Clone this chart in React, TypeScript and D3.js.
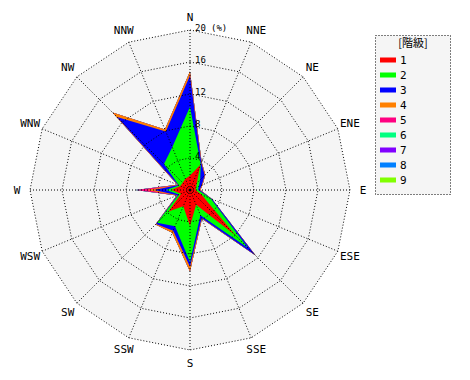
import React from "react";
import * as d3 from "d3";

const directions = ["N","NNE","NE","ENE","E","ESE","SE","SSE","S","SSW","SW","WSW","W","WNW","NW","NNW"];
const classLabels = ["1","2","3","4","5","6","7","8","9"];
const classColors = ["#ff0000","#00ff00","#0000ff","#ff8000","#ff0080","#00ff80","#8000ff","#0080ff","#80ff00"];
const radialTicks = [4, 8, 12, 16, 20];

// per-class frequencies (%) by direction, N..NNW clockwise
const class1 = [1.8, 3.4, 1.2, 0.8, 0.7, 1.6, 8.0, 2.0, 4.5, 2.2, 3.8, 1.2, 2.3, 1.3, 1.3, 1.5];
const class2 = [8.6, 0.1, 0.6, 0.4, 0.3, 1.2, 2.2, 1.4, 4.5, 2.7, 2.0, 0.3, 0.7, 0.2, 3.3, 4.3];
const class3 = [3.9, 0.2, 0.8, 0.4, 0.2, 0.2, 1.3, 0.4, 0.6, 0.6, 0.2, 0.2, 1.5, 0.1, 8.3, 2.1];
const class4 = [0.5, 0.1, 0.1, 0.1, 0.1, 0.0, 0.1, 0.1, 0.6, 0.3, 0.1, 0.1, 0.9, 0.1, 0.8, 0.3];
const class5 = [0, 0, 0, 0, 0, 0, 0, 0, 0, 0, 0, 0, 1.4, 0, 0, 0];
const class6 = [0, 0, 0, 0, 0, 0, 0, 0, 0, 0, 0, 0, 0.05, 0, 0, 0];
const class7 = [0, 0, 0, 0, 0, 0, 0, 0, 0, 0, 0, 0, 0, 0, 0, 0];
const class8 = [0, 0, 0, 0, 0, 0, 0, 0, 0, 0, 0, 0, 0, 0, 0, 0];
const class9 = [0, 0, 0, 0, 0, 0, 0, 0, 0, 0, 0, 0, 0, 0, 0, 0];
const classes = [class1, class2, class3, class4, class5, class6, class7, class8, class9];

export default function App() {
  const cx = 190, cy = 190, R = 160;
  const r = d3.scaleLinear().domain([0, 20]).range([0, R]);
  const step = (2 * Math.PI) / directions.length;
  const ang = (i: number) => i * step;

  const cum: number[][] = [];
  classes.forEach((arr, k) => {
    cum.push(arr.map((v, i) => (k === 0 ? 0 : cum[k - 1][i]) + v));
  });

  const radial = d3.lineRadial<number>()
    .angle((_, i) => ang(i))
    .radius((d) => r(d))
    .curve(d3.curveLinearClosed);

  const ringPath = (v: number) => radial(directions.map(() => v)) as string;
  const px = (i: number, rad: number) => [Math.sin(ang(i)) * rad, -Math.cos(ang(i)) * rad];
  const font = "'DejaVu Sans Mono', monospace";

  return (
    <svg width={470} height={380} style={{ position: "absolute", left: 0, top: 0, background: "#fff" }}>
      <g transform={`translate(${cx},${cy})`}>
        <path d={ringPath(20)} fill="#f5f5f5" />
        {cum.map((c, k) => ({ c, k })).reverse().map(({ c, k }) => (
          <path key={k} d={radial(c) as string} fill={classColors[k]} stroke="none" />
        ))}
        {radialTicks.map((t) => (
          <path key={t} d={ringPath(t)} fill="none" stroke="#000" strokeWidth={1} strokeDasharray="1 2" />
        ))}
        {directions.map((d, i) => {
          const [x, y] = px(i, R);
          return <line key={d} x1={0} y1={0} x2={x} y2={y} stroke="#000" strokeWidth={1} strokeDasharray="1 2" />;
        })}
        <circle r={1.5} fill="#000" />
        {directions.map((d, i) => {
          const [x, y] = px(i, R + 13);
          return (
            <text key={d} x={x} y={y} textAnchor="middle" dominantBaseline="central" fontFamily={font} fontSize={11} fill="#000">
              {d}
            </text>
          );
        })}
        {radialTicks.map((t) => (
          <text key={t} x={5} y={-r(t) + 1} fontFamily={font} fontSize={9} fill="#000">
            {t}
          </text>
        ))}
        <text x={21} y={-r(20) + 1} fontFamily={font} fontSize={9} fill="#000">(%)</text>
      </g>
      <g>
        <rect x={375.5} y={35.5} width={75} height={159} fill="#f5f5f5" stroke="#000" strokeDasharray="1 2" />
        <text x={413} y={47} textAnchor="middle" fontFamily="'Noto Sans CJK JP', sans-serif" fontSize={11} fill="#000">
          [階級]
        </text>
        {classLabels.map((l, k) => (
          <g key={l} transform={`translate(380,${60 + k * 15})`}>
            <rect x={0} y={-2.5} width={16} height={5} fill={classColors[k]} />
            <text x={20} y={0} dominantBaseline="central" fontFamily={font} fontSize={11} fill="#000">{l}</text>
          </g>
        ))}
      </g>
    </svg>
  );
}
